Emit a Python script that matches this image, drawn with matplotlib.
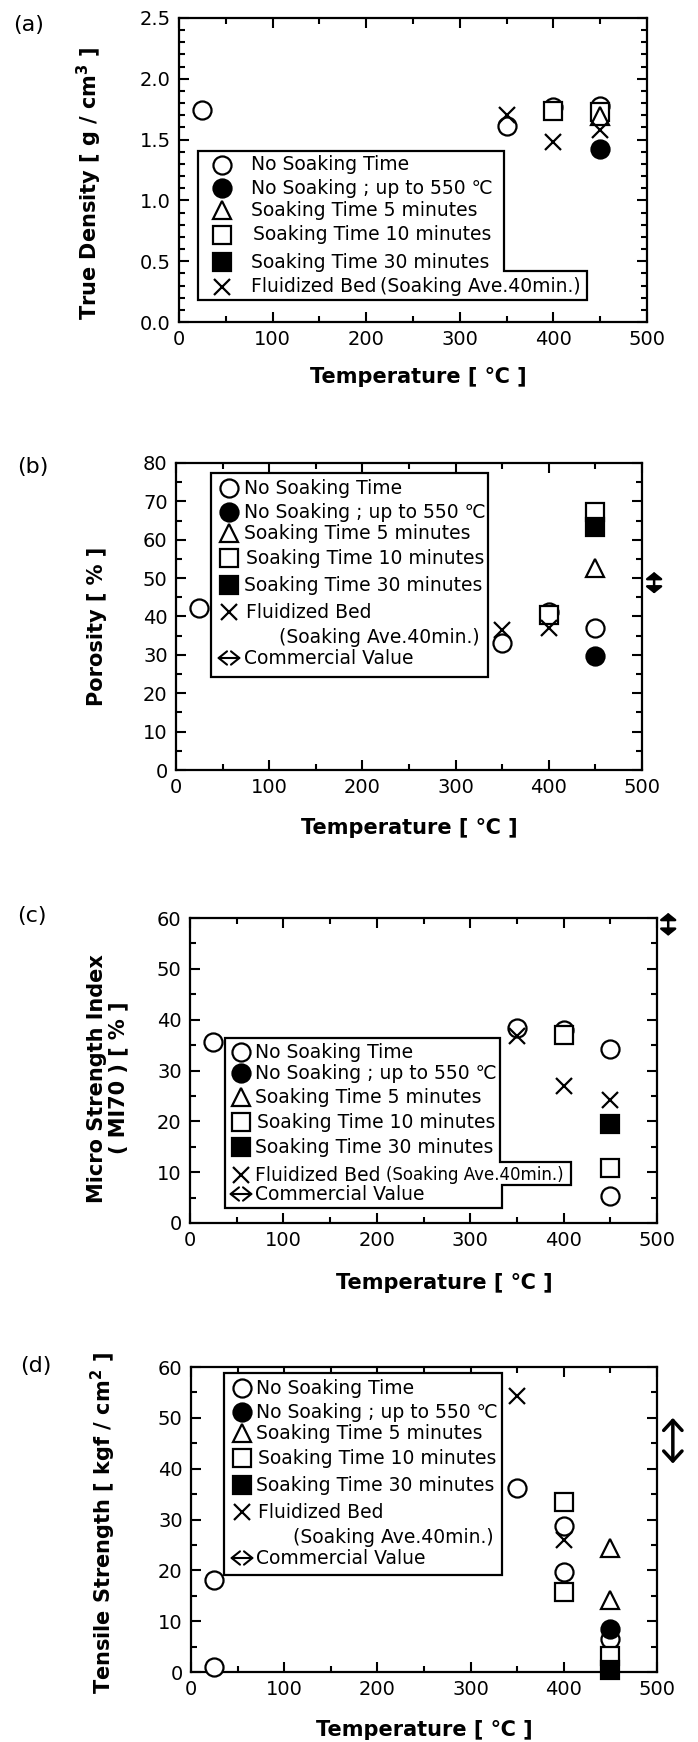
import matplotlib
matplotlib.use('Agg')
import matplotlib.pyplot as plt
from matplotlib.transforms import Affine2D
from matplotlib.lines import Line2D
from matplotlib.patches import Polygon, FancyArrowPatch
from matplotlib.ticker import MultipleLocator, FormatStrFormatter

plt.rc('font', family='DejaVu Sans')

# ---- data ----
# (a) true density [g/cm3]
a_circle_t, a_circle_v = [25, 350, 400, 450], [1.74, 1.61, 1.77, 1.78]
a_fcircle_t, a_fcircle_v = [450], [1.42]
a_tri_t, a_tri_v = [450], [1.69]
a_square_t, a_square_v = [400, 450], [1.735, 1.73]
a_cross_t, a_cross_v = [350, 400, 450], [1.70, 1.48, 1.58]

# (b) porosity [%]
b_circle_t, b_circle_v = [25, 350, 400, 450], [42.1, 33.0, 41.2, 36.9]
b_fcircle_t, b_fcircle_v = [450], [29.8]
b_tri_t, b_tri_v = [450], [52.6]
b_square_t, b_square_v = [400, 450], [40.4, 67.3]
b_fsquare_t, b_fsquare_v = [450], [63.4]
b_cross_t, b_cross_v = [350, 400], [36.5, 36.9]
b_commercial = [46.0, 51.6]

# (c) micro strength index MI70 [%]
c_circle_t, c_circle_v = [25, 350, 400, 450, 450], [35.7, 38.3, 38.0, 34.2, 5.3]
c_square_t, c_square_v = [400, 450], [36.9, 10.8]
c_fsquare_t, c_fsquare_v = [450], [19.5]
c_cross_t, c_cross_v = [350, 400, 450], [36.7, 26.9, 24.1]
c_commercial = [56.5, 61.0]

# (d) tensile strength [kgf/cm2]
d_circle_t, d_circle_v = [25, 25, 350, 400, 400, 450], [18.1, 1.0, 36.1, 28.7, 19.7, 6.5]
d_fcircle_t, d_fcircle_v = [450], [8.4]
d_tri_t, d_tri_v = [450, 450], [24.3, 14.2]
d_square_t, d_square_v = [400, 400, 450], [33.4, 15.8, 3.1]
d_fsquare_t, d_fsquare_v = [450], [0.4]
d_cross_t, d_cross_v = [350, 400], [54.2, 26.0]
d_commercial = [41.0, 50.0]

lbl_circle = 'No Soaking Time'
lbl_fcircle = 'No Soaking ; up to 550 ℃'
lbl_tri = 'Soaking Time 5 minutes'
lbl_square = 'Soaking Time 10 minutes'
lbl_fsquare = 'Soaking Time 30 minutes'
lbl_fluid = 'Fluidized Bed'
lbl_fluid2 = '(Soaking Ave.40min.)'
lbl_comm = 'Commercial Value'

STYLE = {
    'circle': dict(marker='o', mfc='white', ms=13),
    'fcircle': dict(marker='o', mfc='black', ms=13),
    'square': dict(marker='s', mfc='white', ms=12.5),
    'fsquare': dict(marker='s', mfc='black', ms=12.5),
    'tri': dict(marker='^', mfc='white', ms=12.5),
    'cross': dict(marker='x', ms=11),
}

W, H = 698, 1742
fig = plt.figure(figsize=(W / 100, H / 100), dpi=100)
pix = Affine2D().scale(1 / W, -1 / H).translate(0, 1) + fig.transFigure


def make_panel(box, ylim, ymaj, ymin, fmt):
    l, t, r, b = box
    ax = fig.add_axes([l / W, 1 - b / H, (r - l) / W, (b - t) / H])
    ax.set_xlim(0, 500)
    ax.set_ylim(*ylim)
    ax.xaxis.set_major_locator(MultipleLocator(100))
    ax.xaxis.set_minor_locator(MultipleLocator(50))
    ax.yaxis.set_major_locator(MultipleLocator(ymaj))
    ax.yaxis.set_minor_locator(MultipleLocator(ymin))
    ax.yaxis.set_major_formatter(FormatStrFormatter(fmt))
    ax.tick_params(which='both', direction='in', top=True, right=True,
                   width=1.5, labelsize=14)
    ax.tick_params(which='major', length=7, pad=6)
    ax.tick_params(which='minor', length=4)
    for s in ax.spines.values():
        s.set_linewidth(1.6)
    return ax


def plot_series(ax, series):
    for kind, t, v in series:
        ax.plot(t, v, ls='none', mec='black', mew=1.6, clip_on=False,
                zorder=3, **STYLE[kind])


def commercial(ax, x, rng, style, scale, lw):
    ax.annotate('', xy=(x, rng[1]), xytext=(x, rng[0]),
                arrowprops=dict(arrowstyle=style, color='black', lw=lw,
                                mutation_scale=scale, shrinkA=0, shrinkB=0),
                annotation_clip=False)


def legend(poly, mx, rows, fs=13.5):
    fig.add_artist(Polygon(poly, closed=True, transform=pix, fc='white',
                           ec='black', lw=1.6, zorder=3))
    for kind, y, texts in rows:
        if kind == 'arrow':
            fig.add_artist(FancyArrowPatch((mx - 12, y), (mx + 12, y), transform=pix,
                                           arrowstyle='<->,head_length=0.5,head_width=0.4',
                                           mutation_scale=12, lw=1.5, color='black',
                                           shrinkA=0, shrinkB=0, zorder=4))
        elif kind is not None:
            fig.add_artist(Line2D([mx], [y], transform=pix, ls='none', mec='black',
                                  mew=1.6, zorder=4, **STYLE[kind]))
        for item in texts:
            txt, tx = item[0], item[1]
            size = item[2] if len(item) > 2 else fs
            fig.text(tx, y, txt, transform=pix, fontsize=size, va='center',
                     ha='left', zorder=4)


def labels(ax, ylabel, xpos, ypos, tag, tagpos):
    ax.set_xlabel('Temperature [ ℃ ]', fontsize=15, fontweight='bold')
    ax.xaxis.set_label_coords(*xpos)
    ax.set_ylabel(ylabel, fontsize=15, fontweight='bold', linespacing=1.1)
    ax.yaxis.set_label_coords(*ypos)
    fig.text(tagpos[0], tagpos[1], tag, transform=pix, fontsize=16,
             ha='center', va='center')


small_arrow = '<|-|>,head_length=0.4,head_width=0.5'

# ---- (a) ----
ax = make_panel((179, 18, 647, 322), (0, 2.5), 0.5, 0.1, '%.1f')
plot_series(ax, [('circle', a_circle_t, a_circle_v),
                 ('fcircle', a_fcircle_t, a_fcircle_v),
                 ('square', a_square_t, a_square_v),
                 ('tri', a_tri_t, a_tri_v),
                 ('cross', a_cross_t, a_cross_v)])
labels(ax, 'True Density [ g / cm$^\\mathbf{3}$ ]', (0.511, -0.148), (-0.160, 0.457),
       '(a)', (29, 25))
legend([(198, 151), (504, 151), (504, 271), (587, 271), (587, 300), (198, 300)], 222,
       [('circle', 165, [(lbl_circle, 251)]),
        ('fcircle', 188, [(lbl_fcircle, 251)]),
        ('tri', 210, [(lbl_tri, 251)]),
        ('square', 235, [(lbl_square, 253)]),
        ('fsquare', 262, [(lbl_fsquare, 251)]),
        ('cross', 287, [(lbl_fluid, 251), (lbl_fluid2, 380)])])

# ---- (b) ----
ax = make_panel((176, 463, 642, 770), (0, 80), 10, 5, '%d')
plot_series(ax, [('circle', b_circle_t, b_circle_v),
                 ('fcircle', b_fcircle_t, b_fcircle_v),
                 ('square', b_square_t, b_square_v),
                 ('fsquare', b_fsquare_t, b_fsquare_v),
                 ('tri', b_tri_t, b_tri_v),
                 ('cross', b_cross_t, b_cross_v)])
commercial(ax, 513, b_commercial, small_arrow, 10, 1.8)
labels(ax, 'Porosity [ % ]', (0.50, -0.156), (-0.148, 0.469), '(b)', (33, 467))
legend([(211, 473), (488, 473), (488, 677), (211, 677)], 229,
       [('circle', 488, [(lbl_circle, 244)]),
        ('fcircle', 512, [(lbl_fcircle, 244)]),
        ('tri', 533, [(lbl_tri, 244)]),
        ('square', 558, [(lbl_square, 246)]),
        ('fsquare', 585, [(lbl_fsquare, 244)]),
        ('cross', 612, [(lbl_fluid, 246)]),
        (None, 637, [(lbl_fluid2, 279)]),
        ('arrow', 658, [(lbl_comm, 244)])])

# ---- (c) ----
ax = make_panel((190, 918, 657, 1223), (0, 60), 10, 5, '%d')
plot_series(ax, [('circle', c_circle_t, c_circle_v),
                 ('square', c_square_t, c_square_v),
                 ('fsquare', c_fsquare_t, c_fsquare_v),
                 ('cross', c_cross_t, c_cross_v)])
commercial(ax, 512, c_commercial, small_arrow, 10, 1.8)
labels(ax, 'Micro Strength Index\n( MI70 ) [ % ]', (0.544, -0.164), (-0.131, 0.475),
       '(c)', (32, 916))
legend([(225, 1038), (500, 1038), (500, 1162), (571, 1162), (571, 1185),
        (502, 1185), (502, 1208), (225, 1208)], 241,
       [('circle', 1052, [(lbl_circle, 255)]),
        ('fcircle', 1073, [(lbl_fcircle, 255)]),
        ('tri', 1097, [(lbl_tri, 255)]),
        ('square', 1122, [(lbl_square, 257)]),
        ('fsquare', 1147, [(lbl_fsquare, 255)]),
        ('cross', 1175, [(lbl_fluid, 255), (lbl_fluid2, 386, 12)]),
        ('arrow', 1194, [(lbl_comm, 255)])])

# ---- (d) ----
ax = make_panel((191, 1367, 657, 1672), (0, 60), 10, 5, '%d')
plot_series(ax, [('circle', d_circle_t, d_circle_v),
                 ('fcircle', d_fcircle_t, d_fcircle_v),
                 ('square', d_square_t, d_square_v),
                 ('fsquare', d_fsquare_t, d_fsquare_v),
                 ('tri', d_tri_t, d_tri_v),
                 ('cross', d_cross_t, d_cross_v)])
commercial(ax, 517, d_commercial, '<->,head_length=0.6,head_width=0.55', 12, 2.5)
labels(ax, 'Tensile Strength [ kgf / cm$^\\mathbf{2}$ ]', (0.50, -0.157), (-0.157, 0.489),
       '(d)', (36, 1366))
legend([(224, 1373), (502, 1373), (502, 1575), (224, 1575)], 242,
       [('circle', 1388, [(lbl_circle, 256)]),
        ('fcircle', 1412, [(lbl_fcircle, 256)]),
        ('tri', 1433, [(lbl_tri, 256)]),
        ('square', 1458, [(lbl_square, 258)]),
        ('fsquare', 1485, [(lbl_fsquare, 256)]),
        ('cross', 1512, [(lbl_fluid, 258)]),
        (None, 1537, [(lbl_fluid2, 293)]),
        ('arrow', 1558, [(lbl_comm, 256)])])

fig.savefig('out.png', dpi=100)
